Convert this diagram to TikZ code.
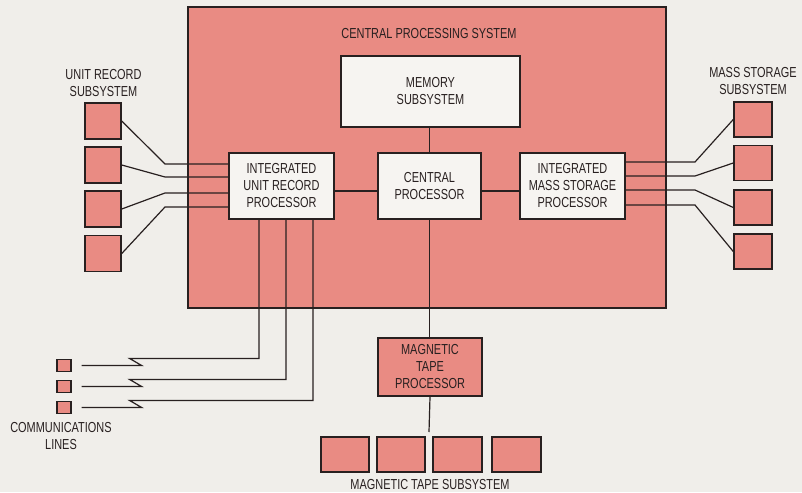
\documentclass[tikz,border=0pt]{standalone}
\usepackage{fontspec}
\setmainfont{Liberation Sans}[FakeStretch=0.755]
\usetikzlibrary{calc}
\definecolor{pinkc}{RGB}{233,139,131}
\definecolor{paper}{RGB}{240,238,234}
\definecolor{boxw}{RGB}{246,244,241}
\definecolor{ink}{RGB}{40,32,32}
\tikzset{
  x=1pt,y=-1pt,
  box/.style={draw=ink,line width=1.5pt,inner sep=0pt,align=center,text=ink,
    font=\fontsize{14.5}{17}\selectfont},
  pinkbox/.style={box,fill=pinkc},
  whitebox/.style={box,fill=boxw},
  lbl/.style={align=center,inner sep=0pt,text=ink,font=\fontsize{14.5}{17}\selectfont},
  wire/.style={draw=ink,line width=1.2pt}
}
\begin{document}
\begin{tikzpicture}
\useasboundingbox (0,0) rectangle (802,492);
\fill[paper] (0,0) rectangle (802,492);
% central processing system
\node[pinkbox,minimum width=478,minimum height=301] (cps) at (427,157.5) {};
\node[lbl] (cpslbl) at (429,33.5) {CENTRAL PROCESSING SYSTEM};
\node[whitebox,minimum width=179,minimum height=71] (mem) at (430.5,91.5) {MEMORY\\SUBSYSTEM};
\node[whitebox,minimum width=103,minimum height=66] (cp) at (429.5,186) {CENTRAL\\PROCESSOR};
\node[whitebox,minimum width=105,minimum height=66] (iurp) at (281.5,186) {INTEGRATED\\UNIT RECORD\\PROCESSOR};
\node[whitebox,minimum width=105,minimum height=66] (imsp) at (572.5,186) {INTEGRATED\\MASS STORAGE\\PROCESSOR};
% unit record subsystem
\node[lbl] (urlbl) at (103.5,83.5) {UNIT RECORD\\SUBSYSTEM};
\foreach \i/\y in {1/121,2/165,3/209,4/253.5}
  \node[pinkbox,minimum width=36,minimum height=36] (ur\i) at (103,\y) {};
% mass storage subsystem
\node[lbl] (mslbl) at (753,81) {MASS STORAGE\\SUBSYSTEM};
\foreach \i/\y in {1/119.5,2/163,3/207.5,4/251.5}
  \node[pinkbox,minimum width=38,minimum height=35] (ms\i) at (753,\y) {};
% communications lines
\foreach \i/\y in {1/365.5,2/386.5,3/407.5}
  \node[pinkbox,line width=1.3pt,minimum width=14,minimum height=12] (cl\i) at (64,\y) {};
\node[lbl] (cllbl) at (61,436) {COMMUNICATIONS\\LINES};
% magnetic tape
\node[pinkbox,minimum width=104,minimum height=58] (mtp) at (430,367) {MAGNETIC\\TAPE\\PROCESSOR};
\foreach \i/\x/\w in {1/345/48,2/401/48,3/457.5/49,4/516.5/49}
  \node[pinkbox,minimum width=\w,minimum height=35] (mt\i) at (\x,454.5) {};
\node[lbl] (mtlbl) at (430,485) {MAGNETIC TAPE SUBSYSTEM};
\coordinate (mtend) at (429,432);
% internal connections
\draw[wire] (cp.north) -- (cp.north |- mem.south);
\draw[wire] ($(iurp.east)+(0,5)$) -- ($(cp.west)+(0,5)$);
\draw[wire] ($(cp.east)+(0,5)$) -- ($(imsp.west)+(0,5)$);
\draw[wire] (cp.south) -- (cp.south |- mtp.north);
\draw[wire] (mtp.south) -- (mtend);
% unit record wires
\foreach \i/\d in {1/-22,2/-9,3/7,4/21}
  \draw[wire] ($(iurp.west)+(0,\d)$) -- ($(165,186)+(0,\d)$) -- (ur\i.east);
% mass storage wires
\foreach \i/\d in {1/-24,2/-10,3/4,4/19}
  \draw[wire] ($(imsp.east)+(0,\d)$) -- ($(695,186)+(0,\d)$) -- (ms\i.west);
% communications wires
\foreach \i/\d in {1/-22.5,2/4.5,3/31.5}
  \draw[wire,shorten <=10pt] (cl\i.east) -- ++(70,0) -- ++(-12,-7) -| ($(iurp.south)+(\d,0)$);
\end{tikzpicture}
\end{document}
